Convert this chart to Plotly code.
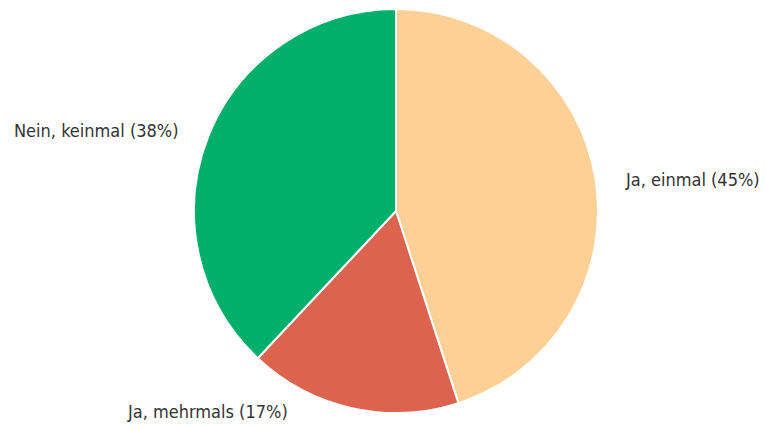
import plotly.graph_objects as go

labels = ["Ja, einmal", "Ja, mehrmals", "Nein, keinmal"]
values = [45, 17, 38]
colors = ["#FDD096", "#DC644E", "#00B06A"]

W, H = 767, 428
cx, cy, r = 396, 211, 202

fig = go.Figure(go.Pie(
    labels=labels, values=values, sort=False, direction="clockwise", rotation=0,
    marker=dict(colors=colors, line=dict(color="white", width=2)),
    textinfo="none", hoverinfo="label+percent", showlegend=False,
    domain=dict(x=[(cx - r) / W, (cx + r) / W], y=[(H - cy - r) / H, (H - cy + r) / H]),
))

font = dict(family="DejaVu Sans Condensed, Liberation Sans Narrow, Roboto", size=18, color="#333333")
label_pos = [(623, 179, "left"), (125, 411, "left"), (181, 130, "right")]
for lab, val, (x, y, anc) in zip(labels, values, label_pos):
    fig.add_annotation(x=x / W, y=1 - y / H, xref="paper", yref="paper",
                       text=f"{lab} ({val}%)", showarrow=False, xanchor=anc, yanchor="middle", font=font)

fig.update_layout(width=W, height=H, margin=dict(l=0, r=0, t=0, b=0),
                  paper_bgcolor="white", plot_bgcolor="white")
fig.write_html("out.html", config={"displayModeBar": False},
               post_script="document.body.style.margin='0';document.body.style.padding='0';")
